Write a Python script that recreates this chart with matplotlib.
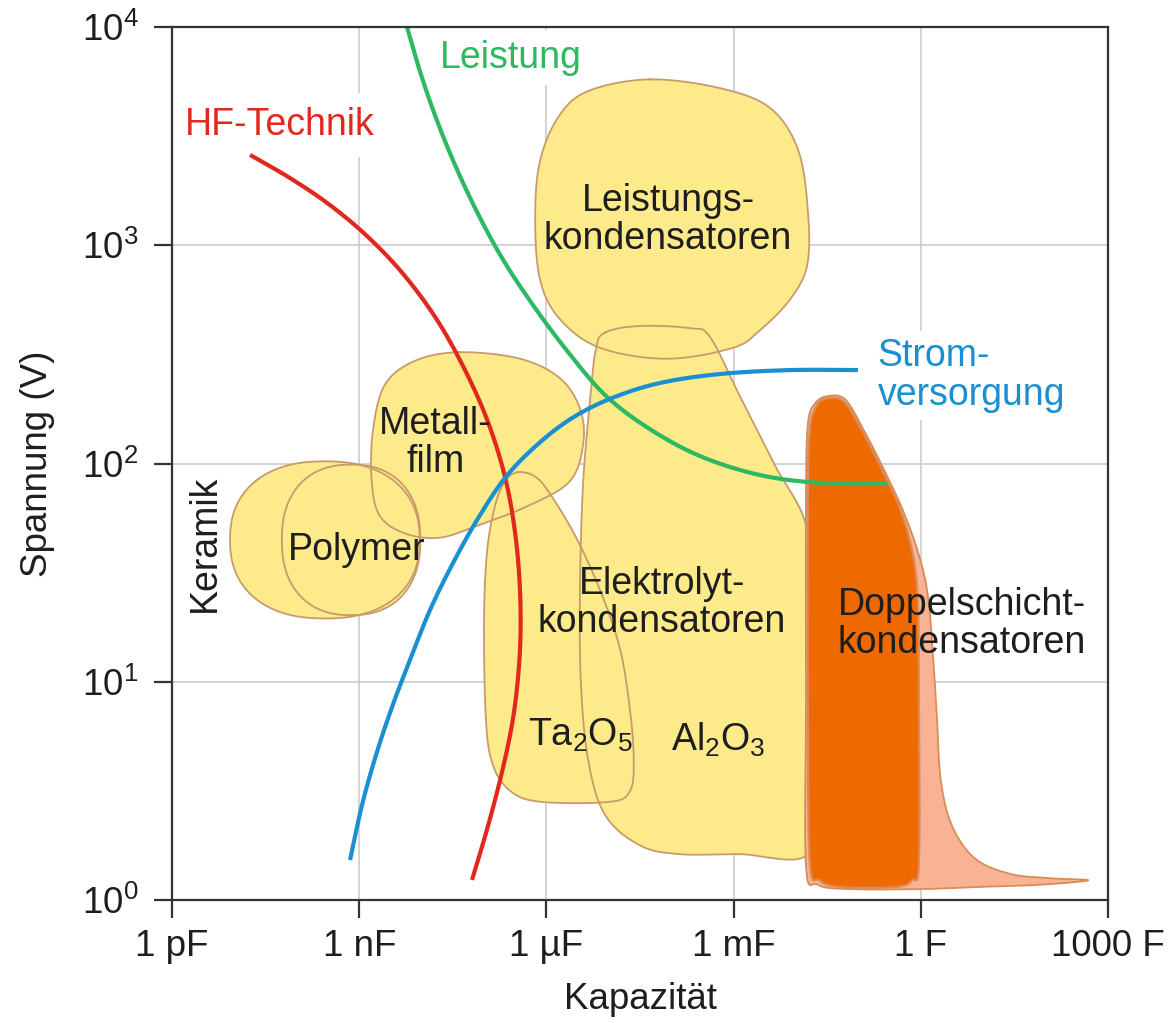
import numpy as np
import matplotlib
matplotlib.use("Agg")
import matplotlib.pyplot as plt
from matplotlib.ticker import NullLocator, FixedLocator, FixedFormatter

plt.rcParams['font.family'] = ['Liberation Sans', 'DejaVu Sans']
plt.rcParams['mathtext.fontset'] = 'custom'
plt.rcParams['mathtext.rm'] = 'Liberation Sans'
plt.rcParams['mathtext.it'] = 'Liberation Sans:italic'
plt.rcParams['mathtext.bf'] = 'Liberation Sans:bold'

# ---------------- data (log10 capacitance [F], log10 voltage [V]) ----------------
x_tick_values = [1e-12, 1e-9, 1e-6, 1e-3, 1, 1e3]
x_tick_labels = ['1 pF', '1 nF', '1 µF', '1 mF', '1 F', '1000 F']
y_tick_values = [1, 10, 100, 1000, 1e4]
y_tick_labels = [r'$10^{0}$', r'$10^{1}$', r'$10^{2}$', r'$10^{3}$', r'$10^{4}$']

# curves
hf_logC = [-10.75, -10.109, -9.468, -8.859, -8.282, -7.753, -7.304, -6.936, -6.663, -6.503, -6.423, -6.423, -6.519, -6.696, -6.936, -7.192]
hf_logV = [3.414, 3.308, 3.184, 3.038, 2.864, 2.658, 2.428, 2.190, 1.938, 1.686, 1.420, 1.145, 0.861, 0.605, 0.339, 0.092]

leistung_logC = [-8.266, -8.058, -7.817, -7.513, -7.144, -6.712, -6.215, -5.654, -5.061, -4.372, -3.538, -2.577, -1.615, -0.526]
leistung_logV = [4.032, 3.826, 3.620, 3.400, 3.171, 2.942, 2.726, 2.511, 2.314, 2.163, 2.034, 1.947, 1.911, 1.906]

strom_logC = [-9.147, -8.955, -8.731, -8.474, -8.186, -7.865, -7.513, -7.112, -6.663, -6.151, -5.590, -4.949, -4.179, -3.218, -2.096, -1.006]
strom_logV = [0.183, 0.435, 0.664, 0.884, 1.100, 1.329, 1.535, 1.741, 1.934, 2.085, 2.208, 2.300, 2.369, 2.410, 2.428, 2.428]

# regions
keramik_center = (-9.55, 1.65)
keramik_half = (1.52, 0.36)
polymer_center = (-9.13, 1.65)
polymer_half = (1.11, 0.345)

metall_logC = [-7.39, -6.42, -5.78, -5.46, -5.41, -5.62, -6.26, -7.06, -7.71, -8.27, -8.67, -8.80, -8.78, -8.59, -8.11]
metall_logV = [2.51, 2.48, 2.39, 2.25, 2.09, 1.92, 1.81, 1.72, 1.66, 1.68, 1.76, 1.92, 2.15, 2.36, 2.47]

leistk_logC = [-4.34, -3.22, -2.42, -1.97, -1.81, -1.82, -2.10, -2.58, -3.01, -4.07, -5.14, -5.78, -6.10, -6.18, -6.10, -5.78, -5.30]
leistk_logV = [3.76, 3.72, 3.63, 3.44, 3.16, 2.91, 2.75, 2.61, 2.53, 2.48, 2.53, 2.66, 2.84, 3.12, 3.39, 3.60, 3.71]

elko_logC = [-5.06, -4.50, -3.70, -3.38, -2.90, -2.34, -1.84, -1.81, -1.81, -1.81, -2.90, -3.86, -4.50, -5.06, -5.33, -5.45, -5.46, -5.41, -5.30, -5.21]
elko_logV = [2.60, 2.63, 2.62, 2.58, 2.309, 1.993, 1.718, 1.38, 0.55, 0.21, 0.21, 0.21, 0.25, 0.39, 0.64, 1.01, 1.47, 1.92, 2.29, 2.52]

ta_logC = [-6.46, -6.18, -5.94, -5.54, -5.14, -4.82, -4.66, -4.60, -4.66, -4.98, -6.10, -6.58, -6.86, -6.97, -7.00, -6.95, -6.82, -6.66]
ta_logV = [1.96, 1.94, 1.86, 1.67, 1.42, 1.15, 0.87, 0.64, 0.50, 0.45, 0.45, 0.50, 0.62, 0.83, 1.28, 1.60, 1.81, 1.92]

dopp_logC = [-1.46, -1.22, -0.94, -0.62, -0.33, -0.14, -0.05, -0.03, -0.03, -0.14, -0.41, -1.30, -1.62, -1.78, -1.81, -1.81, -1.78, -1.66]
dopp_logV = [2.30, 2.28, 2.15, 1.97, 1.79, 1.60, 1.38, 0.92, 0.18, 0.09, 0.06, 0.06, 0.09, 0.18, 0.92, 1.83, 2.15, 2.27]

dopp_range_logC = [-1.46, -1.20, -0.89, -0.57, -0.25, -0.01, 0.12, 0.20, 0.26, 0.32, 0.50, 0.87, 1.43, 2.07, 2.68, 1.91, 0.95, -0.01, -1.14, -1.65, -1.84, -1.84, -1.84, -1.81, -1.68]
dopp_range_logV = [2.31, 2.29, 2.14, 1.96, 1.76, 1.56, 1.38, 1.10, 0.83, 0.55, 0.34, 0.19, 0.12, 0.10, 0.09, 0.07, 0.06, 0.05, 0.05, 0.07, 0.16, 0.92, 1.83, 2.18, 2.28]

# ---------------- helpers ----------------
def catmull(u, v, closed, n=24):
    P = np.column_stack([u, v]).astype(float)
    if not closed:
        P = np.vstack([P[0], P, P[-1]])
    N = len(P)
    segs = []
    rng = range(N) if closed else range(1, N - 2)
    for i in rng:
        p0, p1, p2, p3 = P[(i - 1) % N], P[i % N], P[(i + 1) % N], P[(i + 2) % N]
        t = np.linspace(0, 1, n, endpoint=False)[:, None]
        segs.append(0.5 * (2 * p1 + (-p0 + p2) * t + (2 * p0 - 5 * p1 + 4 * p2 - p3) * t ** 2
                           + (-p0 + 3 * p1 - 3 * p2 + p3) * t ** 3))
    out = np.vstack(segs)
    if closed:
        out = np.vstack([out, out[:1]])
    else:
        out = np.vstack([out, P[-1:]])
    return 10 ** out[:, 0], 10 ** out[:, 1]

def superellipse(center, half, expo=2.3, n=400):
    t = np.linspace(0, 2 * np.pi, n)
    c, s = np.cos(t), np.sin(t)
    x = center[0] + half[0] * np.sign(c) * np.abs(c) ** (2 / expo)
    y = center[1] + half[1] * np.sign(s) * np.abs(s) ** (2 / expo)
    return 10 ** x, 10 ** y

# ---------------- figure ----------------
W, H = 1174, 1023
fig = plt.figure(figsize=(W / 100, H / 100), dpi=100)
ax = fig.add_axes([172 / W, 123 / H, 936 / W, 873 / H])
ax.set_xscale('log')
ax.set_yscale('log')
ax.set_xlim(1e-12, 1e3)
ax.set_ylim(1, 1e4)

ax.xaxis.set_major_locator(FixedLocator(x_tick_values))
ax.xaxis.set_major_formatter(FixedFormatter(x_tick_labels))
ax.yaxis.set_major_locator(FixedLocator(y_tick_values))
ax.yaxis.set_major_formatter(FixedFormatter(y_tick_labels))
ax.xaxis.set_minor_locator(NullLocator())
ax.yaxis.set_minor_locator(NullLocator())

FS = 27
ax.set_axisbelow(True)
ax.grid(True, color='#c8c8c8', lw=1.1)
for sp in ax.spines.values():
    sp.set_linewidth(1.6)
    sp.set_color('#333333')
    sp.set_zorder(6)
ax.tick_params(axis='both', direction='out', length=13, width=1.6, color='#333333',
               labelsize=26.5, labelcolor='#1e1e1e')
ax.tick_params(axis='x', pad=8)
ax.tick_params(axis='y', pad=11)

ax.set_xlabel('Kapazität', fontsize=26.5, color='#1e1e1e')
ax.set_ylabel('Spannung (V)', fontsize=26.5, color='#1e1e1e')
ax.xaxis.set_label_coords(0.5, -0.094)
ax.yaxis.set_label_coords(-0.125, 0.5)

yellow = '#fdea8b'
yedge = '#c99a6b'
orange = '#ee6a00'
salmon = '#f9b294'
oedge = '#d98c58'

yellow_shapes = [
    superellipse(keramik_center, keramik_half),
    superellipse(polymer_center, polymer_half),
    catmull(metall_logC, metall_logV, True),
    catmull(leistk_logC, leistk_logV, True),
    catmull(elko_logC, elko_logV, True),
    catmull(ta_logC, ta_logV, True),
]
for X, Y in yellow_shapes:
    ax.fill(X, Y, color=yellow, lw=0, zorder=1)
for X, Y in yellow_shapes:
    ax.plot(X, Y, color=yedge, lw=1.3, zorder=1.5)

X, Y = catmull(dopp_range_logC, dopp_range_logV, True)
ax.fill(X, Y, facecolor=salmon, edgecolor=oedge, lw=1.3, zorder=2)
X, Y = catmull(dopp_logC, dopp_logV, True)
ax.fill(X, Y, facecolor=orange, edgecolor=oedge, lw=1.6, zorder=2.2)

red = '#e2281e'
green = '#2db862'
blue = '#1a8fd2'
for (cx, cy, col) in [(hf_logC, hf_logV, red), (leistung_logC, leistung_logV, green),
                      (strom_logC, strom_logV, blue)]:
    X, Y = catmull(cx, cy, False)
    ax.plot(X, Y, color=col, lw=3.0, zorder=4, solid_capstyle='butt')

ax.text(10 ** -11.79, 10 ** 3.55, 'HF-Technik', color=red, fontsize=FS, ha='left', va='center',
        bbox=dict(facecolor='white', edgecolor='none', pad=10), zorder=0.9)
ax.text(10 ** -7.70, 10 ** 3.86, 'Leistung', color=green, fontsize=FS, ha='left', va='center',
        bbox=dict(facecolor='white', edgecolor='none', pad=7), zorder=0.9)
ax.text(10 ** -0.69, 10 ** 2.405, 'Strom-\nversorgung', color=blue, fontsize=FS, ha='left',
        va='center', linespacing=1.1, bbox=dict(facecolor='white', edgecolor='none', pad=5), zorder=0.9)

tc = '#1e1e1e'
kw = dict(color=tc, fontsize=FS, zorder=5, linespacing=1.1)
ax.text(10 ** -4.05, 10 ** 3.116, 'Leistungs-\nkondensatoren', ha='center', va='center', **kw)
ax.text(10 ** -7.78, 10 ** 2.094, 'Metall-\nfilm', ha='center', va='center', **kw)
ax.text(10 ** -9.035, 10 ** 1.604, 'Polymer', ha='center', va='center', **kw)
ax.text(10 ** -11.47, 10 ** 1.636, 'Keramik', ha='center', va='center', rotation=90, **kw)
ax.text(10 ** -4.15, 10 ** 1.361, 'Elektrolyt-\nkondensatoren', ha='center', va='center', **kw)
ax.text(10 ** -5.46, 10 ** 0.756, r'Ta$_2$O$_5$', ha='center', va='center', **kw)
ax.text(10 ** -3.25, 10 ** 0.733, r'Al$_2$O$_3$', ha='center', va='center', **kw)
ax.text(10 ** -1.33, 10 ** 1.265, 'Doppelschicht-\nkondensatoren', ha='left', va='center', **kw)

fig.savefig('out.png', dpi=100)
